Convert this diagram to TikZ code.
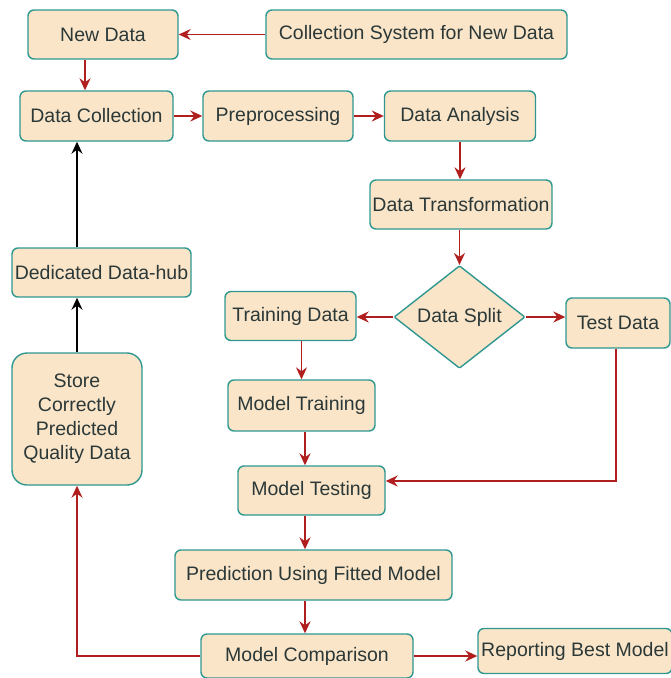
\documentclass[tikz,border=0pt]{standalone}
\usepackage{fontspec}
\setmainfont{Liberation Sans}
\usetikzlibrary{arrows.meta,shapes.geometric}
\definecolor{boxfill}{HTML}{FAE5C8}
\definecolor{boxline}{HTML}{2E9890}
\definecolor{arrred}{HTML}{B01E1E}
\definecolor{txt}{HTML}{2B3838}
\begin{document}
\begin{tikzpicture}[x=1pt,y=-1pt,
  box/.style={draw=boxline,fill=boxfill,line width=1.4pt,rounded corners=6pt,inner sep=0pt,
    text=txt,font=\fontsize{19.5}{23}\selectfont},
  arr/.style={draw=arrred,line width=1.5pt,-{Stealth[length=12pt,width=11pt,inset=4pt]}},
  barr/.style={draw=black,line width=1.5pt,-{Stealth[length=12pt,width=11pt,inset=4pt]}}]
\useasboundingbox (0,0) rectangle (671,678);
\newcommand{\bx}[6]{\node[box,minimum width=#4,minimum height=#5] (#1) at (#2,#3) {#6};}
\bx{nd}{103}{34.5}{150}{49}{New Data}
\bx{cs}{416.5}{34.5}{301}{49}{Collection System for New Data}
\bx{dc}{96.5}{116}{153}{50}{Data Collection}
\bx{pp}{278}{116}{150}{50}{Preprocessing}
\bx{da}{460}{116}{151}{50}{Data Analysis}
\bx{dt}{461}{204.5}{182}{49}{Data Transformation}
\node[box,diamond,rounded corners=1pt,minimum width=131,minimum height=100,inner sep=0pt] (ds) at (459.5,317) {Data Split};
\bx{td}{290.5}{316}{131}{49}{Training Data}
\bx{te}{618}{323}{104}{50}{Test Data}
\bx{dh}{101.5}{272.5}{179}{49}{Dedicated Data-hub}
\node[box,rounded corners=15pt,minimum width=130,minimum height=132,align=center,
  font=\fontsize{19.5}{24}\selectfont] (st) at (77,419) {Store\\Correctly\\Predicted\\Quality Data};
\bx{mt}{301.5}{405.5}{147}{51}{Model Training}
\bx{ms}{311.5}{490.5}{147}{49}{Model Testing}
\bx{pr}{313.5}{575}{277}{50}{Prediction Using Fitted Model}
\bx{mc}{307}{656}{212}{44}{Model Comparison}
\bx{rp}{575}{651}{194}{45}{Reporting Best Model}
\coordinate (c85) at (85,0);
\coordinate (c305) at (305,0);
\coordinate (tt) at (616,481);
\draw[arr] (cs.west) -- (nd.east);
\draw[arr] (nd.south -| c85) -- (dc.north -| c85);
\draw[arr] (dc.east) -- (pp.west);
\draw[arr] (pp.east) -- (da.west);
\draw[arr] (da.south) -- (da.south |- dt.north);
\draw[arr] (dt.south -| ds.north) -- (ds.north);
\draw[arr] (ds.west) -- (ds.west -| td.east);
\draw[arr] (ds.east) -- (ds.east -| te.west);
\draw[arr] (mt.north |- td.south) -- (mt.north);
\draw[arr] (mt.south -| c305) -- (ms.north -| c305);
\draw[arr] (te.south -| tt) -- (tt) -- (tt -| ms.east);
\draw[arr] (ms.south -| c305) -- (pr.north -| c305);
\draw[arr] (pr.south -| c305) -- (mc.north -| c305);
\draw[arr] (mc.east) -- (mc.east -| rp.west);
\draw[arr] (mc.west) -| (st.south);
\draw[barr] (st.north) -- (st.north |- dh.south);
\draw[barr] (dh.north -| st.north) -- (dc.south -| st.north);
\end{tikzpicture}
\end{document}
